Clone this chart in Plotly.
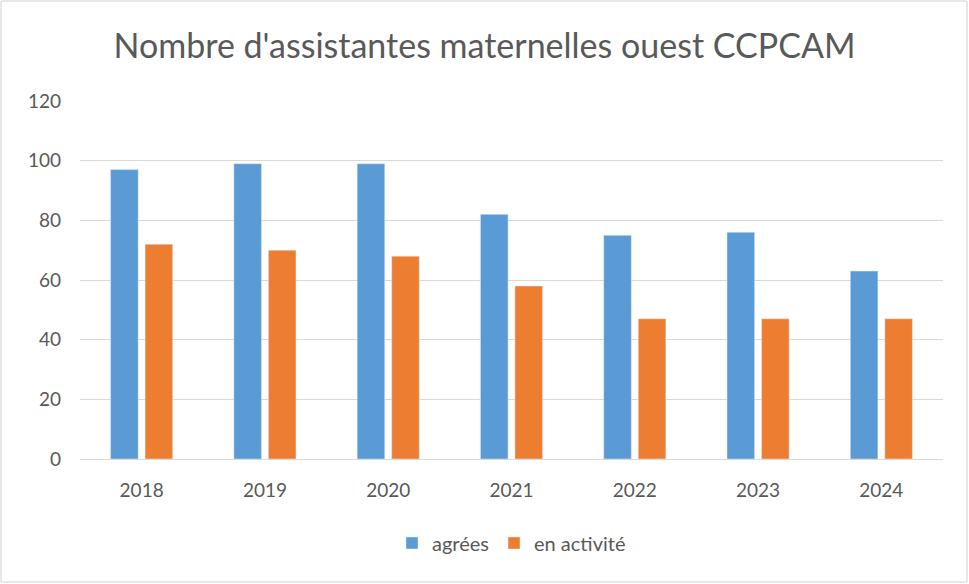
import plotly.graph_objects as go

years = ["2018", "2019", "2020", "2021", "2022", "2023", "2024"]
agreees = [97, 99, 99, 82, 75, 76, 63]
en_activite = [72, 70, 68, 58, 47, 47, 47]
y_ticks = [0, 20, 40, 60, 80, 100, 120]

W, H = 969, 584
ml, mr, mt, mb = 80, 26, 101, 125
pw, ph = W - ml - mr, H - mt - mb

fig = go.Figure()
fig.add_trace(go.Bar(x=years, y=agreees, name="agr\u00e9es", marker_color="#5B9BD5"))
fig.add_trace(go.Bar(x=years, y=en_activite, name="en activit\u00e9", marker_color="#ED7D31"))

font_family = "Lato, Open Sans, sans-serif"
fig.update_layout(
    width=W, height=H,
    margin=dict(l=ml, r=mr, t=mt, b=mb),
    paper_bgcolor="white", plot_bgcolor="white",
    barmode="group", bargap=0.44, bargroupgap=0.2,
    title=dict(text="Nombre d'assistantes maternelles ouest CCPCAM",
               x=0.5, xanchor="center", y=1 - 46 / H, yanchor="middle",
               font=dict(family=font_family, size=34, color="#595959")),
    font=dict(family=font_family, color="#595959", size=19),
    legend=dict(orientation="h", x=0.5, xanchor="center",
                y=-(543 - 459) / ph, yanchor="middle",
                font=dict(size=20, color="#595959"), itemwidth=30,
                traceorder="normal"),
    showlegend=True,
)
fig.update_yaxes(range=[0, 120], tickvals=y_ticks, showgrid=True,
                 gridcolor="#D9D9D9", gridwidth=1, zeroline=False,
                 showline=False, ticks="", ticklen=0, tickfont=dict(size=19),
                 ticklabelstandoff=18, automargin=False)
fig.update_xaxes(showline=True, linecolor="#D9D9D9", linewidth=1, ticks="",
                 tickfont=dict(size=19), ticklabelstandoff=14, automargin=False)

fig.add_shape(type="rect", xref="paper", yref="paper",
              x0=(1 - ml) / pw, x1=(W - 2 - ml) / pw,
              y0=-(H - 2 - mt - ph) / ph, y1=1 + (mt - 1) / ph,
              line=dict(color="#D0D0D0", width=1), fillcolor="rgba(0,0,0,0)")

fig.write_html("out.html", config={"displayModeBar": False},
               post_script="document.body.style.margin='0';")
